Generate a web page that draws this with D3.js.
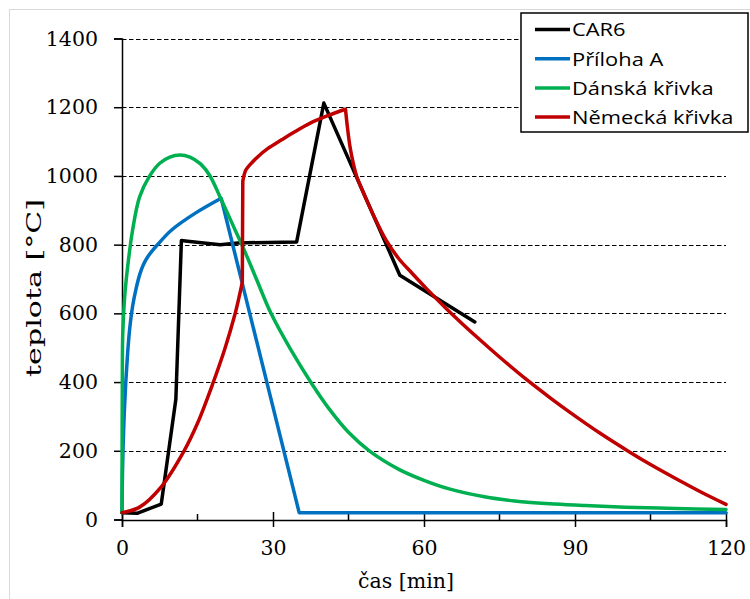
<!DOCTYPE html>
<html>
<head>
<meta charset="utf-8">
<script src="https://cdn.jsdelivr.net/npm/d3@7"></script>
<style>
  html, body { margin: 0; padding: 0; background: #ffffff; }
  svg { display: block; }
</style>
</head>
<body>
<div id="chart"></div>
<script>
// ---------------- data ----------------
const xTicks = [0, 30, 60, 90, 120];
const xMinorTicks = [15, 45, 75, 105];
const yTicks = [0, 200, 400, 600, 800, 1000, 1200, 1400];
const seriesNames = ["CAR6", "Příloha A", "Dánská křivka", "Německá křivka"];
const xTitle = "čas [min]";
const yTitle = "teplota [°C]";

const car6 = [[0,20],[3,18],[7.8,45],[10.7,350],[11.8,812],[13,810],[19.5,800],[23,805],[34.7,808],[40.1,1212],[55.2,711],[70.1,575]];
const car6Kinks = "all";

const priloha = [[0,20],[0.07,110],[0.2,200],[0.45,310],[0.75,400],[1.1,480],[1.5,551],[2.1,620],[2.8,672],[3.5,712],[4.2,740],[5,762],[6,782],[7,799],[9.8,842],[14.5,891],[19.7,935],[35.2,20],[120,20]];
const prilohaKinks = [19.7, 35.2];

const danska = [[0,20],[0.02,200],[0.06,400],[0.15,540],[0.53,648],[1.2,745],[2.1,842],[3.5,939],[5.5,1000],[7.5,1037],[9.5,1055],[11.5,1061],[13.5,1055],[15.6,1035],[17.4,1002],[19.6,935],[22.4,845],[24.2,787],[26.7,700],[29.6,600],[33.5,495],[37.8,393],[41,325],[45,254],[49.2,199],[55,146],[60,114],[65,89],[72,66],[78,54],[86,45],[92,40.5],[100,36],[110,32],[120,29]];
const danskaKinks = [];

const nemecka = [[0,20],[3.5,36],[7.8,95],[12.2,196],[15,280],[18.1,398],[20.5,500],[22.4,595],[23.3,650],[23.9,690],[24.0,985],[24.6,1017],[25.4,1032],[27,1056],[29,1080],[31.7,1105],[34.5,1130],[37.3,1153],[41,1176],[44.4,1194],[44.8,1140],[45.3,1085],[45.9,1040],[46.6,1000],[47.5,967],[48.5,933],[50,884],[52.5,812],[55,759],[57.5,719],[60.5,672],[64.5,613],[70.5,531],[75,473],[80.4,407],[85,355],[89,312],[95,251],[100.9,196],[105,160],[110.9,112],[115,80],[120,44]];
const nemeckaKinks = [23.9, 24.0, 44.4];

const seriesData = [car6, priloha, danska, nemecka];
const seriesKinks = [car6Kinks, prilohaKinks, danskaKinks, nemeckaKinks];
const seriesColors = ["#000000", "#0070C0", "#00B050", "#C00000"];

// ---------------- layout ----------------
const W = 750, H = 599;
const svg = d3.select("#chart").append("svg").attr("width", W).attr("height", H);

svg.append("rect").attr("x", 9.5).attr("y", 9.5).attr("width", 800).attr("height", 700)
  .attr("fill", "#ffffff").attr("stroke", "#d9d9d9").attr("stroke-width", 1);

const x = d3.scaleLinear().domain([0, 120]).range([122, 726]);
const y = d3.scaleLinear().domain([0, 1400]).range([519.5, 38.5]);

const serif = "'DejaVu Serif', 'Liberation Serif', serif";
const sans = "'Open Sans', 'Lato', sans-serif";

// gridlines
svg.append("g").selectAll("line").data(yTicks.filter(d => d > 0)).join("line")
  .attr("x1", 122).attr("x2", 726)
  .attr("y1", d => Math.round(y(d)) + 0.5).attr("y2", d => Math.round(y(d)) + 0.5)
  .attr("stroke", "#000").attr("stroke-width", 1).attr("stroke-dasharray", "4.5,2.5");

// y axis
const yAxis = d3.axisLeft(y).tickValues(yTicks).tickSize(8).tickPadding(16).tickFormat(d3.format("d"));
const gy = svg.append("g").attr("transform", "translate(122,0)").call(yAxis);
gy.select(".domain").attr("stroke", "#000").attr("stroke-width", 1.5);
gy.selectAll(".tick line").attr("stroke", "#000").attr("stroke-width", 1.5);
gy.selectAll(".tick text").attr("font-family", serif).attr("font-size", 20.5).attr("fill", "#000");

// x axis
const xAxis = d3.axisBottom(x).tickValues(xTicks).tickSize(7).tickPadding(13).tickFormat(d3.format("d"));
const gx = svg.append("g").attr("transform", "translate(0,520)").call(xAxis);
gx.select(".domain").attr("stroke", "#000").attr("stroke-width", 1.5);
gx.selectAll(".tick line").attr("stroke", "#000").attr("stroke-width", 1.5).attr("y1", -8);
gx.selectAll(".tick text").attr("font-family", serif).attr("font-size", 20.5).attr("fill", "#000");
svg.append("g").selectAll("line").data(xMinorTicks).join("line")
  .attr("x1", d => x(d)).attr("x2", d => x(d)).attr("y1", 514).attr("y2", 520)
  .attr("stroke", "#000").attr("stroke-width", 1.5);

// axis titles
svg.append("text").attr("x", 406).attr("y", 588).attr("text-anchor", "middle")
  .attr("font-family", serif).attr("font-size", 20.5).attr("fill", "#000").text(xTitle);
svg.append("text").attr("transform", "translate(41,288) rotate(-90)").attr("text-anchor", "middle")
  .attr("font-family", serif).attr("font-size", 21).attr("fill", "#000")
  .attr("textLength", 178).attr("lengthAdjust", "spacingAndGlyphs").text(yTitle);

// series
function buildPath(data, kinks) {
  if (kinks === "all") {
    return d3.line().x(d => x(d[0])).y(d => y(d[1])).curve(d3.curveLinear)(data);
  }
  const segs = [];
  let cur = [];
  data.forEach(p => {
    cur.push(p);
    if (kinks.includes(p[0])) { segs.push(cur); cur = [p]; }
  });
  if (cur.length > 1) segs.push(cur);
  const gen = d3.line().x(d => x(d[0])).y(d => y(d[1])).curve(d3.curveCatmullRom.alpha(0.5));
  return segs.map((s, i) => {
    const d = gen(s);
    return i === 0 ? d : d.replace(/^M/, "L");
  }).join("");
}

const plot = svg.append("g");
seriesData.forEach((data, i) => {
  plot.append("path").attr("d", buildPath(data, seriesKinks[i]))
    .attr("fill", "none").attr("stroke", seriesColors[i])
    .attr("stroke-width", 3.5)
    .attr("stroke-linejoin", "round").attr("stroke-linecap", "round");
});

// legend
const lg = svg.append("g");
lg.append("rect").attr("x", 521).attr("y", 13).attr("width", 227).attr("height", 119)
  .attr("fill", "#fff").attr("stroke", "#000").attr("stroke-width", 1.5);
seriesNames.forEach((name, i) => {
  const cy = 29.5 + i * 29.2;
  lg.append("line").attr("x1", 535).attr("x2", 570).attr("y1", cy).attr("y2", cy)
    .attr("stroke", seriesColors[i]).attr("stroke-width", 3.5);
  lg.append("text").attr("transform", `translate(572,${cy + 6.8}) scale(1.15,1)`)
    .attr("font-family", sans).attr("font-size", 19).attr("fill", "#000").text(name);
});
</script>
</body>
</html>
